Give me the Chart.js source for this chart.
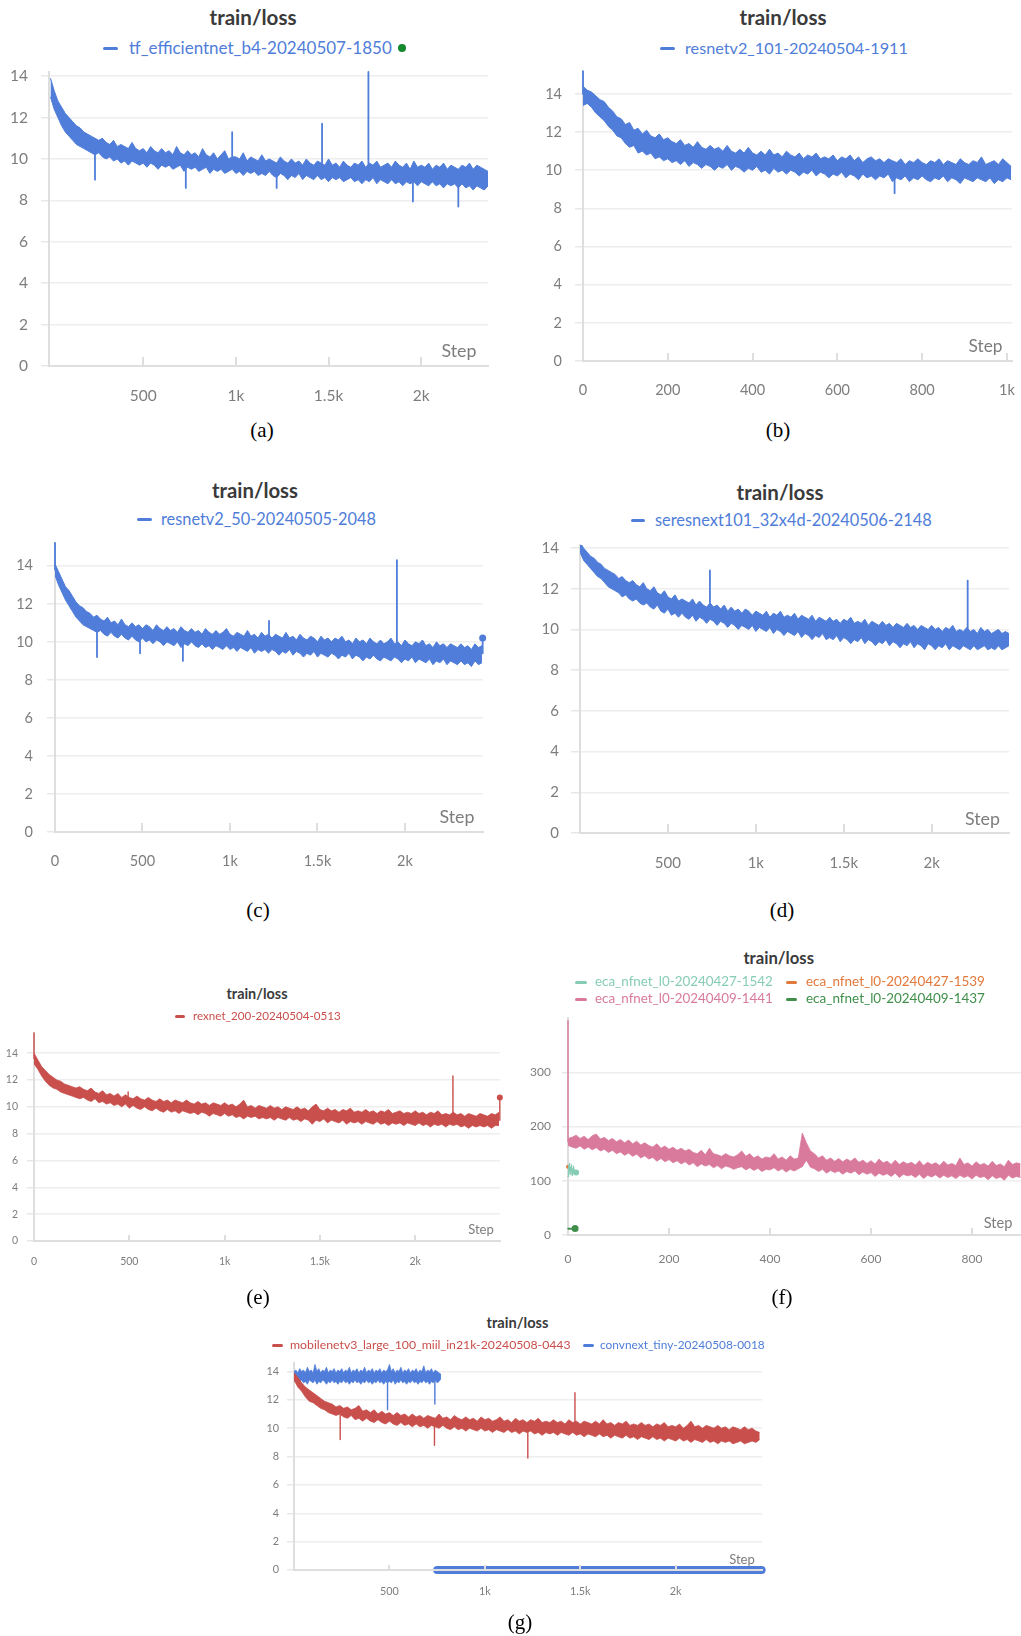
<!DOCTYPE html>
<html><head><meta charset="utf-8">
<script src="https://cdn.jsdelivr.net/npm/chart.js@4.4.1/dist/chart.umd.min.js"></script>
<style>
html,body{margin:0;padding:0;background:#fff;}
body{width:1021px;height:1636px;position:relative;overflow:hidden;}
.abs{position:absolute;white-space:nowrap;line-height:1;}
canvas{position:absolute;}
</style></head><body>
<script>
// ================= DATA =================
// Each noisy loss curve is read off the picture as the upper and lower edge of its band
// (sampled every `stride` steps) plus isolated spikes [step, band level, spike value].
const titleText = 'train/loss';
const stepLabel = 'Step';

// (a) tf_efficientnet_b4
const nameA = 'tf_efficientnet_b4-20240507-1850';
const strideA = 20;
const hiA = [13.9,13.3,12.8,12.5,12.2,12.0,11.8,11.6,11.5,11.3,11.2,11.1,11.0,10.9,11.0,10.8,10.7,10.9,10.6,10.7,
10.6,10.5,10.8,10.5,10.4,10.5,10.3,10.6,10.4,10.3,10.5,10.3,10.4,10.2,10.6,10.3,10.2,10.4,10.2,10.3,
10.1,10.5,10.2,10.1,10.3,10.0,10.2,10.4,10.0,10.1,10.1,10.0,10.3,9.9,10.1,10.0,9.9,10.2,9.9,10.0,
9.9,9.8,10.1,9.9,9.8,10.0,9.8,9.9,9.7,10.0,9.8,9.7,9.9,9.8,9.7,10.0,9.7,9.8,9.6,9.9,
9.7,9.6,9.8,9.7,9.9,9.6,9.8,9.7,9.9,9.6,9.7,9.8,9.6,9.9,9.7,9.6,9.8,9.5,9.9,9.6,
9.7,9.6,9.8,9.5,9.7,9.6,9.8,9.5,9.7,9.6,9.5,9.7,9.6,9.8,9.5,9.7,9.6,9.5,9.4];
const loA = [13.0,12.4,12.0,11.6,11.3,11.1,10.9,10.7,10.6,10.5,10.4,10.3,10.2,10.3,10.1,10.0,10.1,9.9,10.0,9.8,
9.9,9.7,9.9,9.8,9.7,9.8,9.6,9.8,9.7,9.5,9.7,9.6,9.7,9.5,9.6,9.7,9.4,9.6,9.5,9.6,
9.4,9.5,9.6,9.3,9.5,9.4,9.5,9.3,9.4,9.5,9.3,9.4,9.2,9.4,9.3,9.4,9.2,9.3,9.2,9.4,
9.2,9.1,9.3,9.2,9.0,9.2,9.1,9.3,9.0,9.2,9.1,9.0,9.2,9.0,9.1,8.9,9.1,9.0,9.1,8.9,
9.0,9.1,8.9,9.0,8.8,9.0,8.9,9.1,8.8,9.0,8.9,8.8,9.0,8.8,8.9,8.7,8.9,8.8,8.9,8.7,
8.9,8.8,8.7,8.9,8.7,8.8,8.6,8.8,8.7,8.8,8.6,8.8,8.6,8.7,8.5,8.7,8.6,8.5,8.7];
const spikesA = [[240,10.2,9.0],[730,9.5,8.6],[980,10.0,11.3],[1220,9.3,8.6],[1465,9.8,11.7],[1715,9.7,14.2],[1955,9.0,7.95],[2200,8.8,7.7]];

// (b) resnetv2_101
const nameB = 'resnetv2_101-20240504-1911';
const strideB = 10;
const hiB = [14.4,14.2,14.1,13.9,13.7,13.6,13.3,13.1,12.8,12.7,12.4,12.5,12.1,12.2,11.9,12.1,11.8,11.7,11.9,11.6,
11.7,11.5,11.4,11.6,11.3,11.4,11.2,11.5,11.2,11.1,11.3,11.1,11.2,11.0,11.3,11.0,10.9,11.1,10.9,11.2,
10.9,10.8,11.0,10.8,11.1,10.8,10.9,10.7,11.0,10.8,10.7,10.9,10.6,10.8,10.7,10.9,10.6,10.7,10.6,10.8,
10.5,10.7,10.6,10.8,10.5,10.7,10.4,10.6,10.7,10.5,10.6,10.4,10.6,10.5,10.4,10.6,10.3,10.5,10.4,10.6,
10.4,10.3,10.5,10.4,10.6,10.3,10.5,10.4,10.3,10.6,10.4,10.3,10.5,10.4,10.7,10.3,10.4,10.5,10.3,10.6,
10.4,10.2];
const loB = [13.4,13.5,13.3,13.0,12.8,12.6,12.3,12.1,11.8,11.7,11.4,11.2,11.3,10.9,11.0,10.8,10.9,10.6,10.7,10.5,
10.6,10.4,10.5,10.3,10.5,10.2,10.4,10.3,10.1,10.3,10.2,10.0,10.2,10.1,10.3,10.0,10.2,10.1,9.9,10.1,
10.0,10.2,9.9,10.0,9.8,10.1,9.9,10.0,9.8,10.0,9.9,9.7,9.9,9.8,10.0,9.7,9.9,9.8,9.6,9.8,
9.7,9.9,9.6,9.8,9.7,9.5,9.8,9.6,9.7,9.5,9.7,9.6,9.8,9.4,9.6,9.5,9.7,9.4,9.6,9.5,
9.7,9.5,9.4,9.6,9.5,9.7,9.4,9.6,9.5,9.3,9.6,9.5,9.4,9.6,9.5,9.4,9.6,9.3,9.5,9.4,
9.6,9.5];
const spikesB = [[0,14.0,15.2],[735,9.6,8.8]];

// (c) resnetv2_50
const nameC = 'resnetv2_50-20240505-2048';
const strideC = 20;
const hiC = [14.1,13.7,13.3,12.9,12.7,12.4,12.1,11.9,11.8,11.6,11.5,11.3,11.4,11.2,11.1,11.3,11.0,11.1,10.9,11.2,
10.9,10.8,11.0,10.8,10.9,10.7,10.9,10.8,10.6,10.9,10.7,10.6,10.8,10.6,10.7,10.5,10.8,10.6,10.5,10.7,
10.5,10.6,10.4,10.7,10.5,10.4,10.6,10.4,10.5,10.7,10.4,10.3,10.5,10.4,10.3,10.6,10.3,10.4,10.2,10.5,
10.3,10.4,10.2,10.4,10.3,10.2,10.5,10.2,10.3,10.1,10.4,10.2,10.1,10.3,10.2,10.0,10.3,10.1,10.2,10.0,
10.2,10.1,10.3,10.0,10.1,9.9,10.2,10.0,10.1,9.9,10.2,10.0,9.9,10.1,9.9,10.0,10.2,9.9,10.0,9.8,
10.1,9.9,9.8,10.0,9.9,10.1,9.8,9.9,9.7,10.0,9.8,9.9,9.7,9.9,9.8,9.7,9.9,9.7,9.8,9.6,
9.9,9.7,9.8];
const loC = [13.5,13.0,12.6,12.2,11.9,11.6,11.3,11.1,10.9,10.8,10.7,10.6,10.5,10.6,10.4,10.3,10.5,10.3,10.2,10.4,
10.2,10.1,10.3,10.1,10.0,10.2,10.0,10.1,9.9,10.1,10.0,9.8,10.0,9.9,9.8,10.0,9.7,9.9,9.8,10.0,
9.8,9.7,9.9,9.7,9.8,9.6,9.8,9.7,9.6,9.8,9.6,9.7,9.5,9.7,9.6,9.5,9.7,9.4,9.6,9.5,
9.6,9.4,9.6,9.5,9.3,9.5,9.4,9.6,9.3,9.5,9.4,9.2,9.4,9.3,9.5,9.2,9.4,9.3,9.2,9.4,
9.3,9.1,9.3,9.2,9.4,9.1,9.3,9.2,9.0,9.2,9.1,9.3,9.1,9.0,9.2,9.1,9.0,9.2,9.1,8.9,
9.1,9.0,9.2,8.9,9.1,9.0,8.9,9.1,8.8,9.0,8.9,9.1,8.8,9.0,8.9,8.8,9.0,8.8,8.9,8.7,
9.0,8.8,8.9];
const spikesC = [[0,13.8,15.2],[240,10.6,9.2],[486,10.2,9.4],[731,10.0,9.0],[1223,10.0,11.1],[1954,9.6,14.3],[2444,9.4,10.2]];
const endC = [2444, 10.2];

// (d) seresnext101_32x4d
const nameD = 'seresnext101_32x4d-20240506-2148';
const strideD = 20;
const hiD = [14.3,14.0,13.8,13.6,13.5,13.3,13.2,13.0,12.9,12.8,12.7,12.5,12.6,12.4,12.3,12.4,12.2,12.1,12.3,12.0,
11.9,12.1,11.8,11.7,11.9,11.6,11.5,11.7,11.4,11.5,11.4,11.3,11.5,11.2,11.4,11.2,11.1,11.3,11.1,11.2,
11.0,11.2,10.9,11.1,10.9,11.0,10.8,11.0,10.9,10.7,10.9,10.8,10.7,10.9,10.6,10.8,10.7,10.9,10.6,10.7,
10.6,10.8,10.5,10.7,10.6,10.5,10.7,10.4,10.6,10.5,10.4,10.6,10.4,10.5,10.3,10.5,10.4,10.6,10.3,10.4,
10.3,10.5,10.2,10.4,10.3,10.2,10.4,10.2,10.3,10.1,10.3,10.2,10.1,10.3,10.1,10.2,10.0,10.2,10.1,10.0,
10.2,10.0,10.1,9.9,10.1,10.0,10.2,9.9,10.0,9.9,10.1,9.9,10.0,9.8,10.1,9.9,10.0,9.8,9.9,10.0,
9.8,9.9,9.8];
const loD = [13.8,13.4,13.2,13.0,12.8,12.6,12.5,12.3,12.1,12.0,11.9,11.8,11.6,11.7,11.5,11.4,11.5,11.3,11.2,11.3,
11.1,11.0,11.2,10.9,10.8,11.0,10.7,10.8,10.6,10.8,10.6,10.5,10.7,10.4,10.6,10.5,10.3,10.5,10.4,10.2,
10.4,10.3,10.1,10.3,10.2,10.0,10.2,10.1,10.0,10.2,9.9,10.1,10.0,9.9,10.1,9.8,10.0,9.9,9.7,9.9,
9.8,9.7,9.9,9.6,9.8,9.7,9.5,9.7,9.6,9.8,9.5,9.6,9.5,9.7,9.4,9.6,9.5,9.3,9.5,9.4,
9.6,9.3,9.5,9.4,9.2,9.4,9.3,9.5,9.2,9.4,9.3,9.1,9.3,9.2,9.4,9.1,9.3,9.2,9.0,9.3,
9.2,9.0,9.2,9.1,9.3,9.0,9.2,9.1,9.0,9.2,9.1,9.0,9.2,9.0,9.1,9.2,9.0,9.1,9.0,9.2,
9.0,9.1,9.2];
const spikesD = [[739,10.9,12.9],[2205,9.8,12.4]];

// (e) rexnet_200
const nameE = 'rexnet_200-20240504-0513';
const strideE = 20;
const hiE = [14.0,13.5,13.0,12.7,12.4,12.2,12.0,11.9,11.7,11.6,11.5,11.4,11.5,11.3,11.2,11.4,11.1,11.0,11.2,10.9,
11.0,10.8,11.0,10.7,10.9,10.7,10.6,10.8,10.6,10.5,10.7,10.5,10.4,10.6,10.4,10.5,10.3,10.5,10.4,10.3,
10.5,10.3,10.2,10.4,10.2,10.3,10.1,10.3,10.2,10.1,10.3,10.1,10.2,10.0,10.2,10.5,10.0,10.1,9.9,10.1,
10.0,9.9,10.1,9.9,10.0,9.8,10.0,9.9,9.8,10.0,9.8,9.9,9.7,10.0,10.2,9.8,9.7,9.9,9.7,9.8,
9.6,9.8,9.7,9.9,9.6,9.7,9.6,9.8,9.6,9.7,9.5,9.7,9.6,9.8,9.5,9.6,9.7,9.5,9.6,9.5,
9.7,9.5,9.6,9.4,9.6,9.5,9.7,9.4,9.5,9.4,9.6,9.4,9.5,9.3,9.5,9.4,9.3,9.5,9.4,9.3,
9.5,9.4,9.6];
const loE = [13.2,12.8,12.3,11.9,11.6,11.4,11.3,11.1,11.0,10.9,10.8,10.7,10.6,10.7,10.5,10.4,10.6,10.3,10.4,10.2,
10.3,10.1,10.2,10.0,10.2,9.9,10.1,9.9,9.8,10.0,9.8,9.7,9.9,9.7,9.6,9.8,9.6,9.7,9.5,9.7,
9.6,9.5,9.6,9.4,9.6,9.5,9.3,9.5,9.4,9.3,9.5,9.3,9.4,9.2,9.3,9.1,9.3,9.2,9.3,9.1,
9.2,9.1,9.2,9.0,9.2,9.1,9.0,9.2,9.0,9.1,8.9,9.1,9.0,8.7,9.0,8.9,9.1,8.8,9.0,8.9,
8.8,9.0,8.7,8.9,8.8,8.9,8.7,8.9,8.8,8.7,8.9,8.7,8.8,8.6,8.8,8.7,8.8,8.6,8.8,8.7,
8.6,8.8,8.6,8.7,8.5,8.7,8.6,8.7,8.5,8.7,8.6,8.7,8.5,8.6,8.4,8.6,8.5,8.6,8.5,8.6,
8.4,8.6,8.6];
const spikesE = [[0,13.6,15.5],[494,10.3,11.1],[2198,9.0,12.3],[2444,9.0,10.7]];
const endE = [2444, 10.7];

// (f) eca_nfnet_l0 runs
const nameF1 = 'eca_nfnet_l0-20240427-1542';
const nameF2 = 'eca_nfnet_l0-20240427-1539';
const nameF3 = 'eca_nfnet_l0-20240409-1441';
const nameF4 = 'eca_nfnet_l0-20240409-1437';
const strideF3 = 8;
const hiF3 = [178,180,184,178,182,176,183,186,177,180,174,178,172,176,170,175,168,173,166,170,
165,162,168,160,164,158,162,156,160,155,158,152,150,156,148,160,150,148,145,150,
146,144,148,155,145,150,142,146,140,144,142,150,140,144,138,146,140,142,188,170,
155,150,142,146,138,142,136,141,135,140,136,142,134,138,132,137,131,140,133,136,
130,138,130,135,131,134,129,137,128,134,130,133,128,136,129,132,128,142,130,133,
127,135,129,132,127,136,128,131,126,138,130,133,131];
const loF3 = [165,162,160,164,158,162,157,161,155,158,152,156,150,153,147,151,145,149,142,146,
140,143,136,141,135,139,133,137,131,135,129,133,126,131,127,130,124,128,122,127,
125,121,124,126,120,124,119,123,117,121,120,124,118,122,116,121,118,122,126,138,
125,122,117,121,114,119,115,118,112,117,114,118,111,116,112,115,108,114,110,113,
108,114,106,112,109,111,106,112,104,110,107,111,105,110,106,109,104,110,106,109,
103,110,106,108,102,109,104,107,101,110,105,108,106];
const spikesF3 = [[0,172,395]];
const stepsF1 = [0,1,2,3,4,5,6,7,8,9,10,11,12,13,14,15,16];
const lossF1 = [108,128,118,132,112,125,120,130,110,122,116,127,113,120,118,114,115];
const stepsF2 = [0];
const lossF2 = [126];
const stepsF4 = [0,1,2,3,4,5,6,7,8,9,10,11,12,13,14];
const lossF4 = [12,11,12,11,12,12,11,12,12,11,12,12,12,12,12];

// (g) mobilenetv3 + convnext_tiny
const nameG1 = 'mobilenetv3_large_100_miil_in21k-20240508-0443';
const nameG2 = 'convnext_tiny-20240508-0018';
const strideG1 = 20;
const hiG1 = [13.9,13.6,13.2,12.9,12.7,12.5,12.3,12.1,11.9,11.8,11.7,11.5,11.6,11.4,11.5,11.3,11.4,11.6,11.2,11.3,
11.1,11.3,11.0,11.2,11.0,11.1,10.9,11.1,10.9,11.0,10.8,11.0,10.8,10.9,10.7,10.9,10.8,10.7,11.0,10.7,
10.8,10.6,10.9,10.7,10.6,10.8,10.6,10.7,10.5,10.8,10.6,10.7,10.5,10.6,10.8,10.5,10.6,10.4,10.7,10.5,
10.6,10.4,10.6,10.5,10.7,10.4,10.5,10.4,10.6,10.4,10.5,10.3,10.6,10.4,10.5,10.3,10.5,10.4,10.3,10.5,
10.3,10.6,10.3,10.4,10.2,10.4,10.3,10.5,10.2,10.3,10.2,10.4,10.2,10.3,10.1,10.3,10.2,10.4,10.1,10.2,
10.1,10.3,10.0,10.2,10.5,10.1,10.2,10.0,10.2,10.1,10.0,10.2,10.0,10.1,9.9,10.1,10.0,9.9,10.1,9.9,
10.0,9.8,9.7];
const loG1 = [13.4,12.9,12.6,12.2,11.9,11.8,11.6,11.4,11.3,11.1,11.0,10.9,11.0,10.8,10.7,10.9,10.6,10.7,10.5,10.7,
10.5,10.4,10.6,10.4,10.3,10.5,10.3,10.2,10.4,10.2,10.3,10.1,10.3,10.1,10.2,10.0,10.2,10.1,10.0,10.2,
10.0,9.9,10.1,9.9,10.0,9.8,10.0,9.9,9.8,10.0,9.8,9.9,9.7,9.9,9.8,9.7,9.9,9.7,9.8,9.6,
9.8,9.7,9.8,9.6,9.7,9.5,9.7,9.6,9.7,9.5,9.7,9.6,9.5,9.7,9.5,9.6,9.4,9.6,9.5,9.4,
9.6,9.4,9.5,9.3,9.5,9.4,9.3,9.5,9.3,9.4,9.2,9.4,9.3,9.2,9.4,9.2,9.3,9.1,9.3,9.2,
9.1,9.3,9.1,9.2,9.0,9.2,9.1,9.0,9.2,9.0,9.1,8.9,9.1,9.0,9.1,8.9,9.0,9.1,8.9,9.0,
9.1,9.0,9.2];
const spikesG1 = [[242,11.0,9.2],[736,10.2,8.8],[1225,10.0,7.9],[1472,10.0,12.5]];
const strideG2 = 10;
const hiG2 = [14.0,14.1,13.9,14.2,14.0,14.1,13.9,14.3,14.0,14.1,13.9,14.5,14.0,14.2,13.9,14.1,14.0,14.3,13.9,14.1,
14.0,14.2,13.9,14.1,14.0,14.2,13.9,14.1,14.0,14.3,13.9,14.1,14.0,14.2,13.9,14.1,14.0,14.3,13.9,14.1,
14.0,14.2,13.9,14.1,14.0,14.2,13.9,14.1,14.0,14.1,14.5,14.0,14.2,13.9,14.1,14.0,14.3,13.9,14.1,14.0,
14.2,13.9,14.1,14.0,14.2,13.9,14.1,14.0,14.4,13.9,14.1,14.0,14.2,13.9,14.1,14.0,13.9,13.8];
const loG2 = [13.3,13.4,13.2,13.3,13.4,13.2,13.3,13.1,13.4,13.3,13.2,13.4,13.1,13.3,13.2,13.4,13.3,13.1,13.3,13.2,
13.4,13.2,13.3,13.1,13.3,13.2,13.4,13.2,13.3,13.1,13.3,13.2,13.4,13.2,13.3,13.1,13.3,13.2,13.4,13.2,
13.3,13.1,13.3,13.2,13.4,13.2,13.3,13.1,13.3,13.2,13.3,13.2,13.4,13.1,13.3,13.2,13.4,13.2,13.3,13.1,
13.3,13.2,13.4,13.2,13.3,13.1,13.3,13.2,13.4,13.2,13.3,13.1,13.3,13.2,13.4,13.2,13.3,13.5];
const spikesG2 = [[490,13.5,11.3],[738,13.5,11.7]];
const stepsG2zero = [750, 2450];
const lossG2zero = [0, 0];

// tick values / labels
const yTicksLoss = [0,2,4,6,8,10,12,14];
const yTicksF = [0,100,200,300];
const xTicksK = [500,1000,1500,2000];
const xLabelsK = ['500','1k','1.5k','2k'];
const xTicksK0 = [0,500,1000,1500,2000];
const xLabelsK0 = ['0','500','1k','1.5k','2k'];
const xTicksB = [0,200,400,600,800,1000];
const xLabelsB = ['0','200','400','600','800','1k'];
const xTicksF = [0,200,400,600,800];
const xLabelsF = ['0','200','400','600','800'];

// ================= STYLE / HELPERS =================
const FONT = "Lato, 'Noto Sans', sans-serif";
const BLUE = '#4f7dd9', RED = '#c94f4c', PINK = '#d97a9d', TEAL = '#86ccb5', ORANGE = '#e2783a', GREEN = '#3f8f4a';
const TICK = '#7d7d7d', TITLE = '#3a3a3a', AXIS = '#dedede', GRID = '#eeeeee';

function series(vals, stride) { return vals.map((v, i) => ({x: i * stride, y: v})); }
function pairs(xs, ys) { return xs.map((x, i) => ({x, y: ys[i]})); }
function band(hi, lo, stride, color, bw) {
  const base = {borderColor: color, borderWidth: bw, pointRadius: 0, tension: 0, borderJoinStyle: 'round'};
  return [
    Object.assign({data: series(hi, stride), fill: false}, base),
    Object.assign({data: series(lo, stride), fill: '-1', backgroundColor: color}, base)
  ];
}
function spikes(list, color, bw) {
  const d = [];
  list.forEach(([s, b, p]) => { d.push({x: s, y: b}, {x: s, y: p}, {x: s, y: null}); });
  return {data: d, borderColor: color, borderWidth: bw, pointRadius: 0, fill: false, spanGaps: false,
    borderCapStyle: 'round', clip: false};
}
function line(data, color, bw, lastR) {
  const n = data.length;
  return {data, borderColor: color, backgroundColor: color, borderWidth: bw, tension: 0,
    borderJoinStyle: 'round', borderCapStyle: 'round', fill: false, clip: false,
    pointRadius: ctx => (lastR && ctx.dataIndex === n - 1) ? lastR : 0,
    pointBorderWidth: 0, pointBackgroundColor: color};
}
function dotDs(x, y, r, color) {
  return {data: [{x, y}], showLine: false, pointRadius: r, pointBorderWidth: 0, pointBackgroundColor: color, clip: false};
}

function buildChart(p, datasets) {
  const padL = 70, padT = 14, padR = 14, padB = 52;
  const yw = 60, xh = 44;
  const cv = document.createElement('canvas');
  const left = p.area.l - padL, top = p.area.t - padT;
  const w = p.area.r - p.area.l + padL + padR;
  const h = p.area.b - p.area.t + padT + padB;
  cv.width = w; cv.height = h;
  cv.style.left = left + 'px'; cv.style.top = top + 'px';
  cv.style.width = w + 'px'; cv.style.height = h + 'px';
  document.body.appendChild(cv);
  new Chart(cv, {
    type: 'line',
    data: {datasets},
    options: {
      responsive: false, animation: false, events: [],
      layout: {padding: {left: padL - yw, top: padT, right: padR, bottom: padB - xh}},
      plugins: {legend: {display: false}, tooltip: {enabled: false}},
      scales: {
        x: {type: 'linear', min: p.xMin, max: p.xMax,
          afterBuildTicks: s => { s.ticks = p.xTicks.map(v => ({value: v})); },
          afterFit: s => { s.height = xh; s.paddingLeft = 0; s.paddingRight = 0; },
          ticks: {autoSkip: false, maxRotation: 0, font: {family: FONT, size: p.xFont}, color: TICK,
            padding: p.xLabC - p.area.b + p.xTl - 0.6 * p.xFont,
            callback: v => p.xLabels[p.xTicks.indexOf(v)]},
          grid: {drawOnChartArea: false, drawTicks: true, tickLength: -p.xTl, color: AXIS, lineWidth: 2, z: p.xz || -1},
          border: {color: AXIS, width: 2, z: p.xz || 0}
        },
        y: {type: 'linear', min: 0, max: p.yMax,
          afterBuildTicks: s => { s.ticks = p.yTicks.map(v => ({value: v})); },
          afterFit: s => { s.width = yw; s.paddingTop = 0; s.paddingBottom = 0; },
          ticks: {autoSkip: false, font: {family: FONT, size: p.yFont}, color: TICK, padding: p.yPad,
            callback: v => String(v)},
          grid: {color: GRID, lineWidth: 1.5, drawTicks: true, tickLength: p.yTl, tickColor: '#e8e8e8'},
          border: {color: AXIS, width: 2}
        }
      }
    }
  });
}

function txt(s, cx, cy, o) {
  const el = document.createElement('div');
  el.className = 'abs';
  el.textContent = s;
  el.style.fontFamily = o.family || FONT;
  el.style.fontWeight = o.weight || 400;
  el.style.color = o.color || '#000';
  let size = o.size || 14;
  el.style.fontSize = size + 'px';
  document.body.appendChild(el);
  if (o.w) {
    const w0 = el.getBoundingClientRect().width;
    size = size * o.w / w0;
    el.style.fontSize = size + 'px';
  }
  const r = el.getBoundingClientRect();
  el.style.left = (o.align === 'left' ? cx : cx - r.width / 2) + 'px';
  el.style.top = (cy - r.height / 2 - (o.dy || 0) * size) + 'px';
  return el;
}
function dash(x1, x2, cy, color) {
  const el = document.createElement('div');
  el.className = 'abs';
  el.style.left = x1 + 'px'; el.style.width = (x2 - x1) + 'px';
  el.style.top = (cy - 1.5) + 'px'; el.style.height = '3px';
  el.style.borderRadius = '1.5px'; el.style.background = color;
  document.body.appendChild(el);
}
function dot(cx, cy, r, color) {
  const el = document.createElement('div');
  el.className = 'abs';
  el.style.left = (cx - r) + 'px'; el.style.top = (cy - r) + 'px';
  el.style.width = (2 * r) + 'px'; el.style.height = (2 * r) + 'px';
  el.style.borderRadius = '50%'; el.style.background = color;
  document.body.appendChild(el);
}
function title(cx, cy, w) { txt(titleText, cx, cy, {w, size: 18, weight: 700, color: TITLE, dy: 0.05}); }
function step(cx, cy, w) { txt(stepLabel, cx, cy, {w, size: 14, color: TICK}); }
function legend(x1, x2, tx, cy, w, s, color, size) { dash(x1, x2, cy, color); txt(s, tx, cy, {w, size, color, align: 'left'}); }
function caption(s, cx, cy) { txt(s, cx, cy, {size: 21, family: "'Liberation Serif', 'Times New Roman', serif", color: '#000'}); }

// ================= PANELS =================
// (a)
buildChart({area: {l: 49, t: 72, r: 488, b: 366}, xMin: -8, xMax: 2360, yMax: 14.2, yTicks: yTicksLoss,
  yFont: 15.5, yTl: 8, yPad: 13, xTicks: xTicksK, xLabels: xLabelsK, xFont: 15.5, xTl: 9, xLabC: 396},
  [...band(hiA, loA, strideA, BLUE, 1), spikes(spikesA, BLUE, 1.8)]);
title(253, 18, 87);
legend(103, 118, 129, 48, 263, nameA, BLUE, 15);
dot(402, 48, 4, '#138a2e');
step(459, 351, 35);
caption('(a)', 262, 430);

// (b)
buildChart({area: {l: 583, t: 72, r: 1012, b: 361}, xMin: 0, xMax: 1012, yMax: 15.15, yTicks: yTicksLoss,
  yFont: 14.5, yTl: 8, yPad: 13, xTicks: xTicksB, xLabels: xLabelsB, xFont: 14.5, xTl: 8, xLabC: 390},
  [...band(hiB, loB, strideB, BLUE, 1), spikes(spikesB, BLUE, 1.8)]);
title(783, 18, 87);
legend(660, 675, 685, 48, 223, nameB, BLUE, 15);
step(985.5, 346, 34);
caption('(b)', 778, 430);

// (c)
buildChart({area: {l: 55, t: 543, r: 483, b: 832}, xMin: 0, xMax: 2446, yMax: 15.2, yTicks: yTicksLoss,
  yFont: 14.5, yTl: 8, yPad: 14, xTicks: xTicksK0, xLabels: xLabelsK0, xFont: 14.5, xTl: 9, xLabC: 861},
  [...band(hiC, loC, strideC, BLUE, 1), spikes(spikesC, BLUE, 1.8), dotDs(endC[0], endC[1], 3.5, BLUE)]);
title(255, 491, 86);
legend(137, 152, 161, 519, 215, nameC, BLUE, 15);
step(457, 817, 35);
caption('(c)', 258, 910);

// (d)
buildChart({area: {l: 580, t: 545, r: 1009, b: 833}, xMin: 0, xMax: 2440, yMax: 14.15, yTicks: yTicksLoss,
  yFont: 15, yTl: 9, yPad: 12, xTicks: xTicksK, xLabels: xLabelsK, xFont: 15, xTl: 9, xLabC: 863},
  [...band(hiD, loD, strideD, BLUE, 1), spikes(spikesD, BLUE, 1.8)]);
title(780, 493, 87);
legend(631, 645, 655, 520, 277, nameD, BLUE, 15);
step(982.5, 819, 35);
caption('(d)', 782, 910);

// (e)
buildChart({area: {l: 34, t: 1033, r: 500, b: 1241}, xMin: 0, xMax: 2445, yMax: 15.5, yTicks: yTicksLoss,
  yFont: 10.5, yTl: 7, yPad: 9, xTicks: xTicksK0, xLabels: xLabelsK0, xFont: 10.5, xTl: 6, xLabC: 1262},
  [...band(hiE, loE, strideE, RED, 0.8), spikes(spikesE, RED, 1.4), dotDs(endE[0], endE[1], 3, RED)]);
title(257, 995, 61);
legend(175, 185, 193, 1016, 148, nameE, RED, 11);
step(481, 1230, 25.7);
caption('(e)', 258, 1297);

// (f)
buildChart({area: {l: 568, t: 1018, r: 1021, b: 1235}, xMin: 0, xMax: 897, yMax: 400, yTicks: yTicksF,
  yFont: 12, yTl: 6, yPad: 11, xTicks: xTicksF, xLabels: xLabelsF, xFont: 12, xTl: 7, xLabC: 1259},
  [...band(hiF3, loF3, strideF3, PINK, 0.8), spikes(spikesF3, PINK, 1.4),
   line(pairs(stepsF1, lossF1), TEAL, 1.2, 3),
   dotDs(stepsF2[0], lossF2[0], 2, ORANGE),
   line(pairs(stepsF4, lossF4), GREEN, 1.5, 3.5)]);
title(778.7, 959.3, 70.7);
legend(575, 587, 595, 982, 178, nameF1, TEAL, 12.5);
legend(786, 797, 806, 982, 179, nameF2, ORANGE, 12.5);
legend(575, 587, 595, 999, 178, nameF3, PINK, 12.5);
legend(786, 797, 806, 999, 179, nameF4, GREEN, 12.5);
step(998, 1223, 28.7);
caption('(f)', 782, 1297);

// (g)
buildChart({area: {l: 294, t: 1363, r: 762, b: 1570}, xMin: 0, xMax: 2452, yMax: 14.6, yTicks: yTicksLoss,
  yFont: 10.8, yTl: 7, yPad: 8, xTicks: xTicksK, xLabels: xLabelsK, xFont: 10.8, xTl: 5, xLabC: 1592, xz: 1},
  [...band(hiG1, loG1, strideG1, RED, 0.8), spikes(spikesG1, RED, 1.4),
   ...band(hiG2, loG2, strideG2, BLUE, 0.8), spikes(spikesG2, BLUE, 1.4),
   line(pairs(stepsG2zero, lossG2zero), BLUE, 8, 0)]);
title(517.5, 1324.3, 62);
legend(272, 283, 290, 1345, 281, nameG1, RED, 11);
legend(583, 594, 600, 1345, 165, nameG2, BLUE, 11);
step(742, 1559.3, 25.7);
caption('(g)', 520, 1622);
</script>
</body></html>
